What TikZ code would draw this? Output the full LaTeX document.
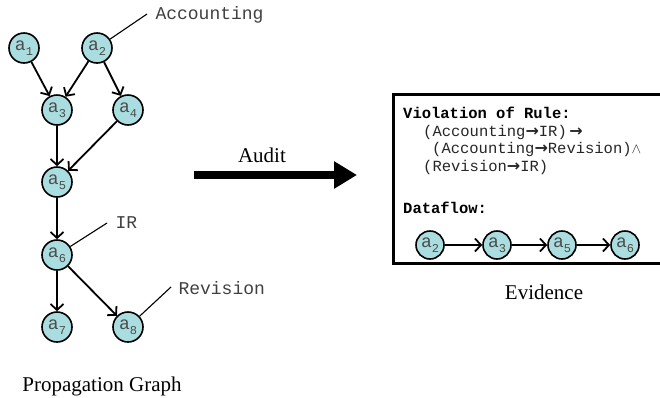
\documentclass[tikz,border=0pt]{standalone}
\usepackage{fontspec}
\setmainfont{Liberation Serif}
\setmonofont{Liberation Mono}
\newfontfamily\symfont{DejaVu Sans}
\usetikzlibrary{arrows.meta}
\definecolor{nodecyan}{RGB}{170,221,223}
\newcommand{\pa}[1]{a\raisebox{-0.3em}{\fontsize{12}{12}\selectfont#1}}
\newcommand{\thickto}{{\symfont\bfseries\fontsize{16}{16}\selectfont →}}
\tikzset{
  proc/.style={circle,draw,line width=1.6pt,fill=nodecyan,minimum size=30pt,
    inner sep=0pt,text=black!70,font=\ttfamily\fontsize{18}{18}\selectfont},
  smallproc/.style={proc,minimum size=28pt},
  flow/.style={-{Straight Barb[length=6pt,width=13pt]},line width=1.8pt},
  tag/.style={line width=1.1pt},
  tagtext/.style={anchor=west,font=\ttfamily\fontsize{18}{18}\selectfont,text=black!75},
  rule/.style={anchor=west,inner sep=0pt,text=black!85,font=\ttfamily\fontsize{15.5}{15.5}\selectfont},
  caption/.style={font=\fontsize{21}{21}\selectfont}
}
\begin{document}
\begin{tikzpicture}[x=1pt,y=-1pt]
\useasboundingbox (0,0) rectangle (660,397);

% propagation graph
\node[proc] (a1) at (24,48) {\pa1};
\node[proc] (a2) at (97,48) {\pa2};
\node[proc] (a3) at (57,110) {\pa3};
\node[proc] (a4) at (128,110) {\pa4};
\node[proc] (a5) at (57,182) {\pa5};
\node[proc] (a6) at (57,255) {\pa6};
\node[proc] (a7) at (57,327) {\pa7};
\node[proc] (a8) at (128,327) {\pa8};

\foreach \from/\to in {a1/a3,a2/a3,a2/a4,a3/a5,a4/a5,a5/a6,a6/a7,a6/a8}
{
    \draw[flow] (\from)--(\to);
}

\coordinate (accend) at (147,14);
\coordinate (irend) at (107,223);
\coordinate (revend) at (171,287);
\draw[tag] (a2)--(accend);
\draw[tag] (a6)--(irend);
\draw[tag] (a8)--(revend);
\node[tagtext] (acc) at (152,15) {Accounting};
\node[tagtext] (ir) at (112,223) {IR};
\node[tagtext] (rev) at (175,288) {Revision};

\node[caption] (graphcap) at (102,386) {Propagation Graph};

% audit arrow
\coordinate (auditfrom) at (194,175);
\coordinate (auditto) at (357,175);
\draw[line width=8pt,-{Triangle[length=23pt,width=26pt]}] (auditfrom)--(auditto);
\node[caption] (audit) at (262,155) {Audit};

% evidence box
\draw[line width=3pt] (393,94) rectangle (668,263);
\node[rule,text=black,font=\ttfamily\bfseries\fontsize{15.5}{15.5}\selectfont] (viol) at (403,113) {Violation of Rule:};
\node[rule] (r1) at (423,132) {(Accounting\thickto IR)\,\thickto};
\node[rule] (r2) at (432,149) {(Accounting\thickto Revision)$\wedge$};
\node[rule] (r3) at (423,167) {(Revision\thickto IR)};
\node[rule,text=black,font=\ttfamily\bfseries\fontsize{15.5}{15.5}\selectfont] (dflow) at (403,208) {Dataflow:};

\node[smallproc] (d2) at (430,245) {\pa2};
\node[smallproc] (d3) at (497,245) {\pa3};
\node[smallproc] (d5) at (562,245) {\pa5};
\node[smallproc] (d6) at (625,245) {\pa6};
\foreach \from/\to in {d2/d3,d3/d5,d5/d6}
{
    \draw[flow] (\from)--(\to);
}

\node[caption] (evcap) at (544,292) {Evidence};
\end{tikzpicture}
\end{document}
